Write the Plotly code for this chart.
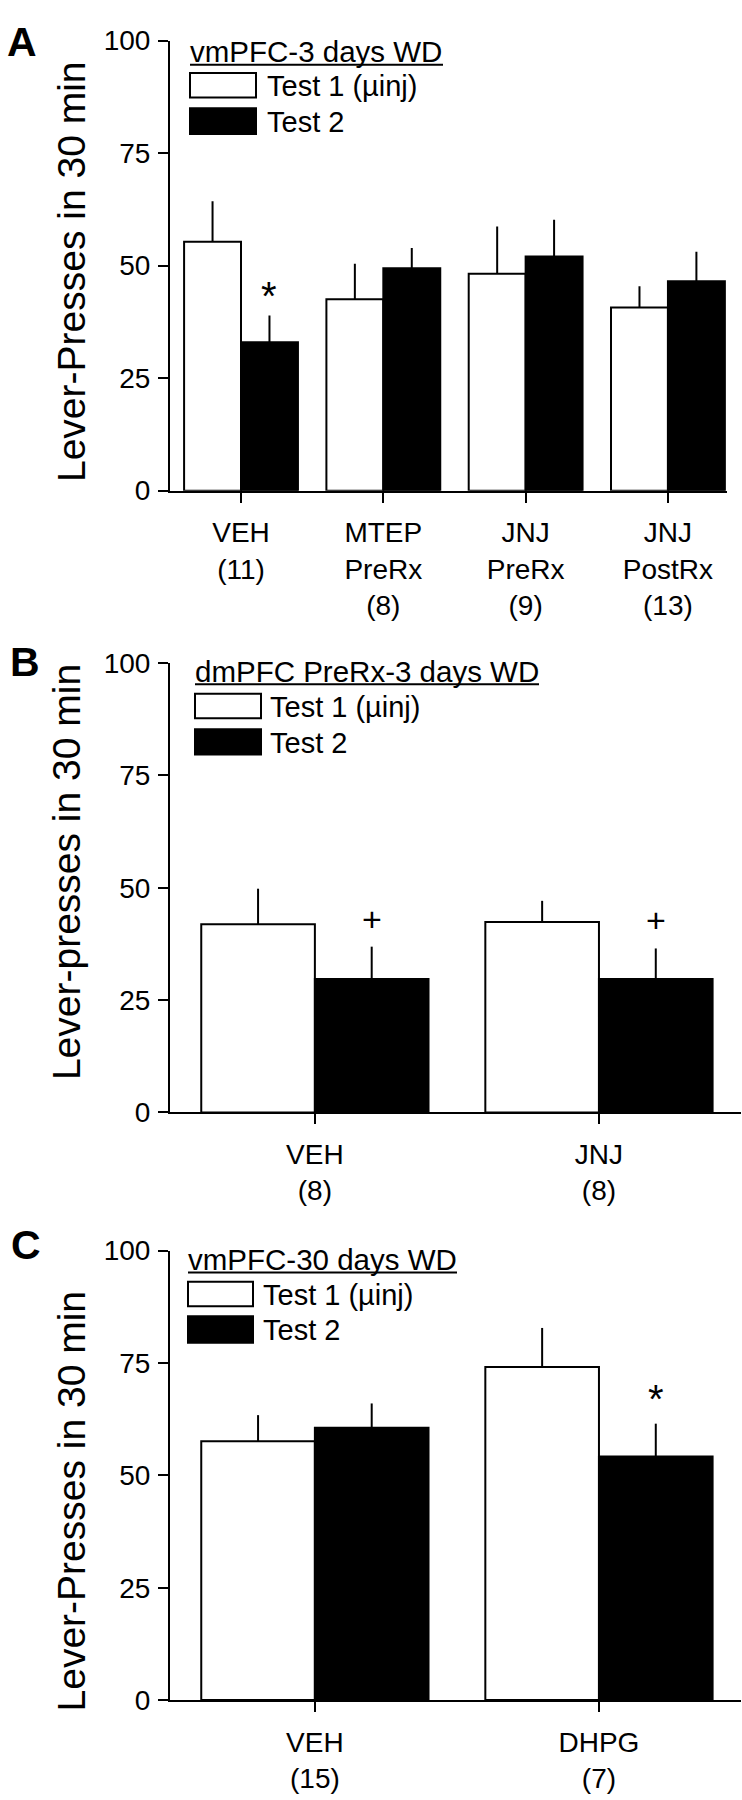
import plotly.graph_objects as go

W, H = 742, 1800


def px(x):
    return x / W


def py(y):
    return 1 - y / H


# ---------------- data ----------------
y_ticks = [0, 25, 50, 75, 100]

a_groups = ["VEH<br>(11)", "MTEP<br>PreRx<br>(8)", "JNJ<br>PreRx<br>(9)", "JNJ<br>PostRx<br>(13)"]
a_test1 = [55.3, 42.5, 48.2, 40.7]
a_test1_sem = [9.0, 7.9, 10.5, 4.7]
a_test2 = [33.0, 49.4, 52.0, 46.5]
a_test2_sem = [5.9, 4.5, 8.2, 6.6]

b_groups = ["VEH<br>(8)", "JNJ<br>(8)"]
b_test1 = [41.9, 42.4]
b_test1_sem = [7.9, 4.7]
b_test2 = [29.7, 29.7]
b_test2_sem = [7.2, 6.8]

c_groups = ["VEH<br>(15)", "DHPG<br>(7)"]
c_test1 = [57.6, 74.1]
c_test1_sem = [5.8, 8.7]
c_test2 = [60.6, 54.2]
c_test2_sem = [5.4, 7.3]

legend_names = ["Test 1 (µinj)", "Test 2"]
panel_titles = ["vmPFC-3 days WD", "dmPFC PreRx-3 days WD", "vmPFC-30 days WD"]
y_titles = ["Lever-Presses in 30 min", "Lever-presses in 30 min", "Lever-Presses in 30 min"]
panel_letters = ["A", "B", "C"]

# significance marks: (symbol, group index, value)
a_marks = [("*", 0, 45.3)]
b_marks = [("+", 0, 43.0), ("+", 1, 42.8)]
c_marks = [("*", 1, 69.0)]

FONT = "Liberation Sans, Arial, sans-serif"

fig = go.Figure()

panels = [
    dict(groups=a_groups, t1=a_test1, s1=a_test1_sem, t2=a_test2, s2=a_test2_sem,
         marks=a_marks, xa="x", ya="y"),
    dict(groups=b_groups, t1=b_test1, s1=b_test1_sem, t2=b_test2, s2=b_test2_sem,
         marks=b_marks, xa="x2", ya="y2"),
    dict(groups=c_groups, t1=c_test1, s1=c_test1_sem, t2=c_test2, s2=c_test2_sem,
         marks=c_marks, xa="x3", ya="y3"),
]

for p in panels:
    for vals, sems, fill in ((p["t1"], p["s1"], "white"), (p["t2"], p["s2"], "black")):
        fig.add_trace(go.Bar(
            x=p["groups"], y=vals, xaxis=p["xa"], yaxis=p["ya"],
            marker=dict(color=fill, line=dict(color="black", width=2)),
            error_y=dict(type="data", array=sems, arrayminus=[0] * len(sems),
                         symmetric=False, width=0, thickness=2, color="black"),
            showlegend=False, hoverinfo="skip",
        ))

# geometry (pixels)
geo = [
    dict(xd=(170, 727), yd=(484, 26), xr=(-0.499, 3.415)),
    dict(xd=(170, 741), yd=(1116.7, 659.5), xr=(-0.51, 1.50)),
    dict(xd=(170, 741), yd=(1714.6, 1257.3), xr=(-0.51, 1.50)),
]

axis_common = dict(showline=True, linewidth=2, linecolor="black", ticks="outside",
                   ticklen=10, tickwidth=2, tickcolor="black", showgrid=False,
                   zeroline=False, tickfont=dict(family=FONT, size=28, color="black"),
                   fixedrange=True)

layout = dict(
    width=W, height=H, margin=dict(l=0, r=0, t=0, b=0),
    paper_bgcolor="white", plot_bgcolor="white",
    barmode="group", bargap=0.2, bargroupgap=0,
    showlegend=False, font=dict(family=FONT, color="black"),
)

for i, g in enumerate(geo):
    sx = "" if i == 0 else str(i + 1)
    layout["xaxis" + sx] = dict(axis_common, domain=[px(g["xd"][0]), px(g["xd"][1])],
                                anchor="y" + sx, range=list(g["xr"]), type="category",
                                ticklabelstandoff=6)
    layout["yaxis" + sx] = dict(axis_common, domain=[py(g["yd"][0]), py(g["yd"][1])],
                                anchor="x" + sx, range=[0, 100], tickvals=y_ticks,
                                ticklabelstandoff=2)

fig.update_layout(**layout)

annotations = []
shapes = []

# significance marks
for p in panels:
    for sym, gi, val in p["marks"]:
        annotations.append(dict(
            x=gi + 0.2, y=val, xref=p["xa"], yref=p["ya"], text=sym, showarrow=False,
            xanchor="center", yanchor="middle",
            yshift=-9 if sym == "*" else 0,
            font=dict(family=FONT, size=40 if sym == "*" else 34, color="black"),
        ))

# y titles
ytitle_pos = [(71.5, 261), (66.5, 872.6), (71.5, 1512)]
for t, (xx, yy) in zip(y_titles, ytitle_pos):
    annotations.append(dict(x=px(xx), y=py(yy), xref="paper", yref="paper", text=t,
                            textangle=-90, showarrow=False, xanchor="center",
                            yanchor="middle", font=dict(family=FONT, size=39, color="black")))

# panel letters
letter_pos = [(22, 27.5), (25, 658), (26, 1251.7)]
for t, (xx, yy) in zip(panel_letters, letter_pos):
    annotations.append(dict(x=px(xx), y=py(yy), xref="paper", yref="paper",
                            text="<b>%s</b>" % t, showarrow=False, xanchor="center",
                            yanchor="middle", font=dict(family=FONT, size=41, color="black")))

# legends (title + underline + boxes)
leg = [
    dict(tx=190, ty=37, ul=(190, 443, 50.7), bx=(190, 256), b1=(59, 84), b2=(95, 121), lx=265),
    dict(tx=195, ty=668, ul=(195, 539, 681), bx=(195, 261), b1=(690.7, 715.5), b2=(726.7, 752.5), lx=268),
    dict(tx=188, ty=1266.6, ul=(188, 457, 1279.6), bx=(188, 253), b1=(1289, 1314), b2=(1324, 1351), lx=261),
]
for t, L in zip(panel_titles, leg):
    annotations.append(dict(x=px(L["tx"] - 2), y=py(L["ty"]), xref="paper", yref="paper",
                            text=t, showarrow=False, xanchor="left", yanchor="middle",
                            font=dict(family=FONT, size=29.5, color="black")))
    x0, x1, yu = L["ul"]
    shapes.append(dict(type="line", xref="paper", yref="paper", x0=px(x0), x1=px(x1),
                       y0=py(yu), y1=py(yu), line=dict(color="black", width=2)))
    for (b0, b1), fill, name in ((L["b1"], "white", legend_names[0]),
                                 (L["b2"], "black", legend_names[1])):
        shapes.append(dict(type="rect", xref="paper", yref="paper",
                           x0=px(L["bx"][0]), x1=px(L["bx"][1]), y0=py(b1), y1=py(b0),
                           fillcolor=fill, line=dict(color="black", width=2)))
        annotations.append(dict(x=px(L["lx"]), y=py((b0 + b1) / 2 + 1), xref="paper",
                                yref="paper", text=name, showarrow=False,
                                xanchor="left", yanchor="middle",
                                font=dict(family=FONT, size=29, color="black")))

fig.update_layout(annotations=annotations, shapes=shapes)

fig.write_html("out.html", config={"displayModeBar": False},
               post_script="document.body.style.margin='0';document.body.style.padding='0';")
